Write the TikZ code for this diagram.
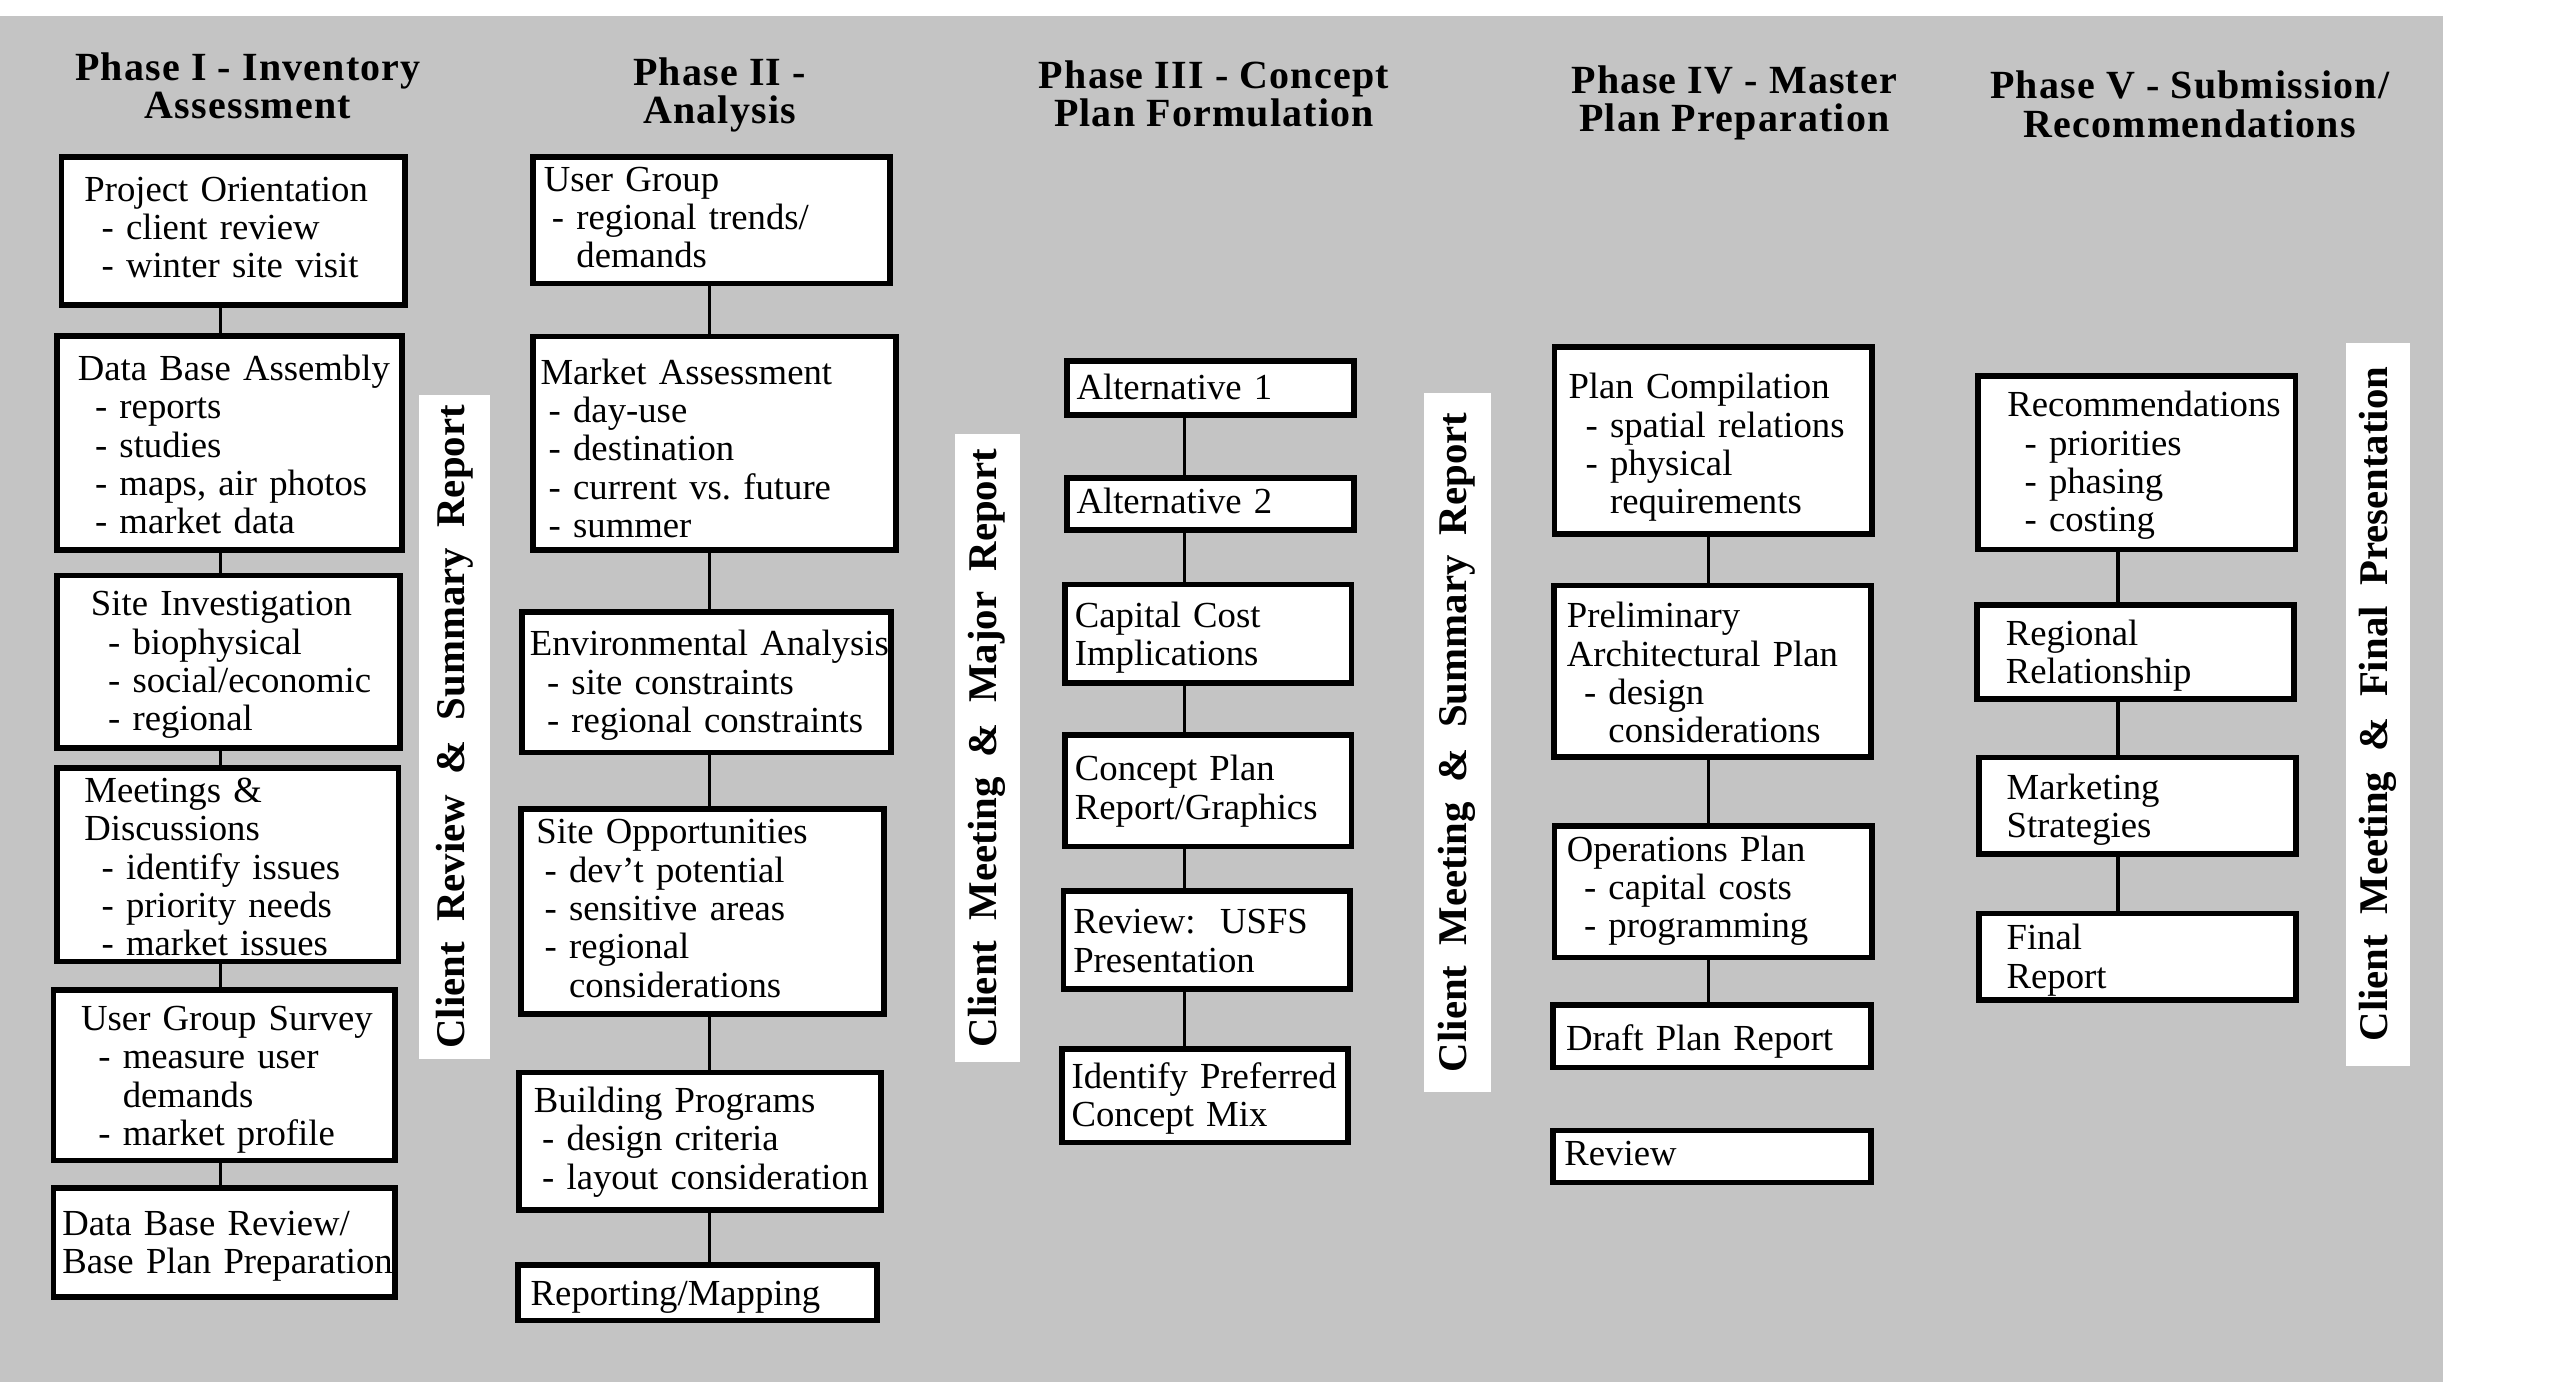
\documentclass[tikz,border=0pt]{standalone}
\usepackage{fontspec}
\usepackage{xcolor}
\usepackage{tikz}
\setmainfont{Liberation Serif}
\newfontfamily\headfont[LetterSpace=3]{Liberation Serif}
\definecolor{bggray}{RGB}{196,196,196}
\newcommand{\boxtext}{\fontsize{22.5pt}{23.5pt}\selectfont}
\newcommand{\headtext}{\headfont\bfseries\fontsize{24.5pt}{23.5pt}\selectfont}
\newcommand{\bartext}{\bfseries\fontsize{25pt}{26pt}\selectfont}
\newcommand{\phitem}[2][10.5pt]{\hspace*{#1}- #2}
\newcommand{\phcont}[2][10.5pt]{\hspace*{#1}\phantom{- }#2}
\newcommand{\rows}[2][2.5pt]{\raisebox{-#1}[\height][\depth]{\begin{tabular}{@{}l@{}}#2\end{tabular}}}
\tikzstyle{block} = [rectangle, draw, line width=3.5pt, fill=white, anchor=north west, align=left, inner ysep=0pt, font=\boxtext]
\tikzstyle{head} = [align=center, font=\headtext]
\tikzstyle{bar} = [rectangle, fill=white, rotate=90, inner sep=0pt, font=\bartext]
\tikzstyle{line} = [draw, line width=2pt]
\tikzset{dims/.style n args={4}{minimum width=#1pt, minimum height=#2pt, text width=#3pt, inner xsep=#4pt}}

\begin{document}
\begin{tikzpicture}[x=1pt,y=-1pt]
\useasboundingbox (0,0) rectangle (1568.9,850);
\fill [white] (0,0) rectangle (1568.9,850);
\fill [bggray] (0,10) rectangle (1497,847);

\node [head] (ph1) at (152,52.5) {Phase I - Inventory\\Assessment};
\node [head] (ph2) at (441,58) {Phase II -\\Analysis};
\node [head] (ph3) at (744,57.5) {Phase III - Concept\\Plan Formulation};
\node [head] (ph4) at (1063,63) {Phase IV - Master\\Plan Preparation};
\node [head] (ph5) at (1342,64) {Phase V - Submission/\\Recommendations};

\node [block, dims={210.5}{90.5}{182.5}{14}] (po) at (36,94.5) {\rows[0.5pt]{Project Orientation\\\phitem{client review}\\\phitem{winter site visit}}};
\node [block, dims={211.5}{131.5}{185.5}{13}] (dba) at (33,204) {\rows[4pt]{Data Base Assembly\\\phitem{reports}\\\phitem{studies}\\\phitem{maps, air photos}\\\phitem{market data}}};
\node [block, dims={210.5}{105.5}{168.5}{21}] (si) at (33,351) {\rows{Site Investigation\\\phitem{biophysical}\\\phitem{social/economic}\\\phitem{regional}}};
\node [block, dims={209.5}{118.5}{175.5}{17}] (md) at (33,469) {\rows[4pt]{Meetings \&\\Discussions\\\phitem{identify issues}\\\phitem{priority needs}\\\phitem{market issues}}};
\node [block, dims={209.5}{104.5}{175.5}{17}] (ugs) at (31,605) {\rows[3pt]{User Group Survey\\\phitem{measure user}\\\phcont{demands}\\\phitem{market profile}}};
\node [block, dims={209.5}{66.5}{198.5}{5.5}] (dbr) at (31,726.5) {\rows{Data Base Review/\\Base Plan Preparation}};

\node [block, dims={218.5}{77.5}{205.5}{6.5}] (ug) at (325,94.5) {\rows[1pt]{User Group\\\phitem[5pt]{regional trends/}\\\phcont[5pt]{demands}}};
\node [block, dims={222.5}{131}{213.5}{4.5}] (ma) at (325,204.5) {\rows[6pt]{Market Assessment\\\phitem[5pt]{day-use}\\\phitem[5pt]{destination}\\\phitem[5pt]{current vs.\ future}\\\phitem[5pt]{summer}}};
\node [block, dims={226.5}{86}{216.5}{5}] (ea) at (318,373.5) {\rows{Environmental Analysis\\\phitem{site constraints}\\\phitem{regional constraints}}};
\node [block, dims={222.5}{125.5}{203.5}{9.5}] (so) at (317.5,494) {\rows[1pt]{Site Opportunities\\\phitem[5pt]{dev't potential}\\\phitem[5pt]{sensitive areas}\\\phitem[5pt]{regional}\\\phcont[5pt]{considerations}}};
\node [block, dims={221.5}{84.5}{203.5}{9}] (bp) at (316.5,655.5) {\rows[1pt]{Building Programs\\\phitem[5pt]{design criteria}\\\phitem[5pt]{layout consideration}}};
\node [block, dims={220}{34}{204}{8}] (rm) at (315.5,773.5) {\rows[3pt]{Reporting/Mapping}};

\node [block, dims={176}{33}{164}{6}] (a1) at (652,219.5) {\rows{Alternative 1}};
\node [block, dims={176}{32}{164}{6}] (a2) at (652,291) {\rows[1pt]{Alternative 2}};
\node [block, dims={175.5}{60.5}{163.5}{6}] (cci) at (651,356.5) {\rows[3pt]{Capital Cost\\Implications}};
\node [block, dims={175.5}{68.5}{163.5}{6}] (cpr) at (651,448.5) {\rows[1pt]{Concept Plan\\Report/Graphics}};
\node [block, dims={175.5}{60}{163.5}{6}] (usf) at (650,544.5) {\rows[3pt]{Review:\ \ USFS\\Presentation}};
\node [block, dims={175.5}{57.5}{163.5}{6}] (ipc) at (649,641) {\rows{Identify Preferred\\Concept Mix}};

\node [block, dims={194.5}{114.5}{177.5}{8.5}] (pc) at (951,211) {\rows[5pt]{Plan Compilation\\\phitem{spatial relations}\\\phitem{physical}\\\phcont{requirements}}};
\node [block, dims={194.5}{105}{178.5}{8}] (pap) at (950.5,357) {\rows[4pt]{Preliminary\\Architectural Plan\\\phitem{design}\\\phcont{considerations}}};
\node [block, dims={194.5}{80.5}{179.5}{7.5}] (op) at (951,504.5) {\rows[0pt]{Operations Plan\\\phitem{capital costs}\\\phitem{programming}}};
\node [block, dims={195}{38.5}{179}{8}] (dpr) at (950,614) {\rows[4pt]{Draft Plan Report}};
\node [block, dims={195}{32}{181}{7}] (rv) at (950,691) {\rows[1pt]{Review}};

\node [block, dims={194.5}{106.5}{158.5}{18}] (rec) at (1210.5,228.5) {\rows{Recommendations\\\phitem{priorities}\\\phitem{phasing}\\\phitem{costing}}};
\node [block, dims={194}{57.5}{159}{17.5}] (rr) at (1210,369) {\rows[3pt]{Regional\\Relationship}};
\node [block, dims={194.5}{59}{160.5}{17}] (ms) at (1211,462.5) {\rows[3pt]{Marketing\\Strategies}};
\node [block, dims={194.5}{53}{160.5}{17}] (fr) at (1211,558) {\rows[3pt]{Final\\Report}};

\node [bar, minimum width=407pt, minimum height=43pt] (crs) at (278.5,445.5) {Client\enspace Review\enspace \&\enspace Summary\enspace Report};
\node [bar, minimum width=385pt, minimum height=40pt] (cmm) at (605,458.5) {Client\enspace Meeting\enspace \&\enspace Major\enspace Report};
\node [bar, minimum width=428pt, minimum height=41pt] (cms) at (893,455) {Client\enspace Meeting\enspace \&\enspace Summary\enspace Report};
\node [bar, minimum width=443pt, minimum height=39pt] (cmf) at (1457.5,431.5) {Client\enspace Meeting\enspace \&\enspace Final\enspace Presentation};

\coordinate (c1) at (135,0);
\coordinate (c2) at (435,0);
\coordinate (c3) at (726,0);
\coordinate (c4) at (1047,0);
\coordinate (c5) at (1298,0);

\path [line] (po.south -| c1) -- (dba.north -| c1);
\path [line] (dba.south -| c1) -- (si.north -| c1);
\path [line] (si.south -| c1) -- (md.north -| c1);
\path [line] (md.south -| c1) -- (ugs.north -| c1);
\path [line] (ugs.south -| c1) -- (dbr.north -| c1);

\path [line] (ug.south -| c2) -- (ma.north -| c2);
\path [line] (ma.south -| c2) -- (ea.north -| c2);
\path [line] (ea.south -| c2) -- (so.north -| c2);
\path [line] (so.south -| c2) -- (bp.north -| c2);
\path [line] (bp.south -| c2) -- (rm.north -| c2);

\path [line] (a1.south -| c3) -- (a2.north -| c3);
\path [line] (a2.south -| c3) -- (cci.north -| c3);
\path [line] (cci.south -| c3) -- (cpr.north -| c3);
\path [line] (cpr.south -| c3) -- (usf.north -| c3);
\path [line] (usf.south -| c3) -- (ipc.north -| c3);

\path [line] (pc.south -| c4) -- (pap.north -| c4);
\path [line] (pap.south -| c4) -- (op.north -| c4);
\path [line] (op.south -| c4) -- (dpr.north -| c4);

\path [line] (rec.south -| c5) -- (rr.north -| c5);
\path [line] (rr.south -| c5) -- (ms.north -| c5);
\path [line] (ms.south -| c5) -- (fr.north -| c5);
\end{tikzpicture}
\end{document}
